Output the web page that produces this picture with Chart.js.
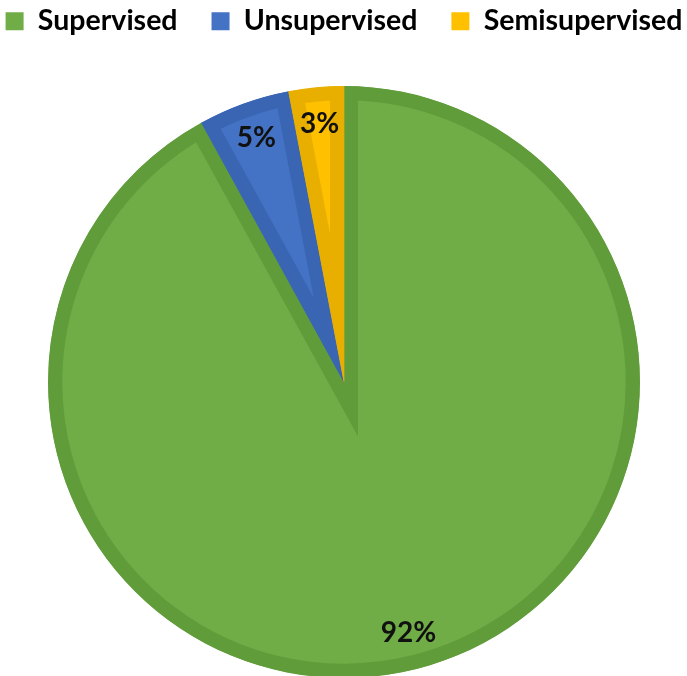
<!DOCTYPE html>
<html>
<head>
<meta charset="utf-8">
<script src="https://cdn.jsdelivr.net/npm/chart.js@4.4.0/dist/chart.umd.min.js"></script>
<style>
    html, body { margin: 0; padding: 0; background: #fff; overflow: hidden; }
    #wrap { position: absolute; left: -36px; top: -27px; width: 760px; height: 800px; }
</style>
</head>
<body>
<div id="wrap"><canvas id="learningChart"></canvas></div>
<script>
const categories = ['Supervised', 'Unsupervised', 'Semisupervised'];
const shares = [92, 5, 3];
const fillColors = ['#70AD47', '#4472C4', '#FFC000'];
const edgeColors = ['#619C3B', '#3A65B3', '#E8AE00'];

// percentage text placed near the outer edge of each slice
const sliceLabels = {
    id: 'sliceLabels',
    afterDatasetsDraw(chart) {
        const ctx = chart.ctx;
        const meta = chart.getDatasetMeta(0);
        ctx.save();
        ctx.font = 'bold 28px Lato';
        ctx.fillStyle = '#111';
        ctx.textAlign = 'center';
        ctx.textBaseline = 'middle';
        meta.data.forEach((arc, i) => {
            const { x, y, startAngle, endAngle, outerRadius } = arc.getProps(['x', 'y', 'startAngle', 'endAngle', 'outerRadius']);
            const mid = (startAngle + endAngle) / 2;
            const r = outerRadius * 0.875;
            ctx.fillText(shares[i] + '%', x + Math.cos(mid) * r, y + Math.sin(mid) * r);
        });
        ctx.restore();
    }
};

new Chart(document.getElementById('learningChart'), {
    type: 'pie',
    data: {
        labels: categories,
        datasets: [{
            data: shares,
            backgroundColor: fillColors,
            borderColor: edgeColors,
            borderWidth: 14,
            borderAlign: 'inner',
            borderJoinStyle: 'miter',
            hoverOffset: 0
        }]
    },
    options: {
        responsive: true,
        maintainAspectRatio: false,
        animation: false,
        radius: 296,
        layout: { padding: { bottom: 54.5 } },
        plugins: {
            tooltip: { enabled: false },
            legend: {
                position: 'top',
                labels: {
                    boxWidth: 18,
                    boxHeight: 18,
                    padding: 34,
                    color: '#111',
                    font: { family: 'Lato', size: 28.5, weight: 'bold' },
                    // plain filled squares in the legend
                    generateLabels(chart) {
                        return categories.map((name, i) => ({
                            text: name,
                            fillStyle: fillColors[i],
                            strokeStyle: fillColors[i],
                            lineWidth: 0,
                            hidden: false,
                            index: i
                        }));
                    }
                }
            }
        }
    },
    plugins: [sliceLabels]
});
</script>
</body>
</html>
